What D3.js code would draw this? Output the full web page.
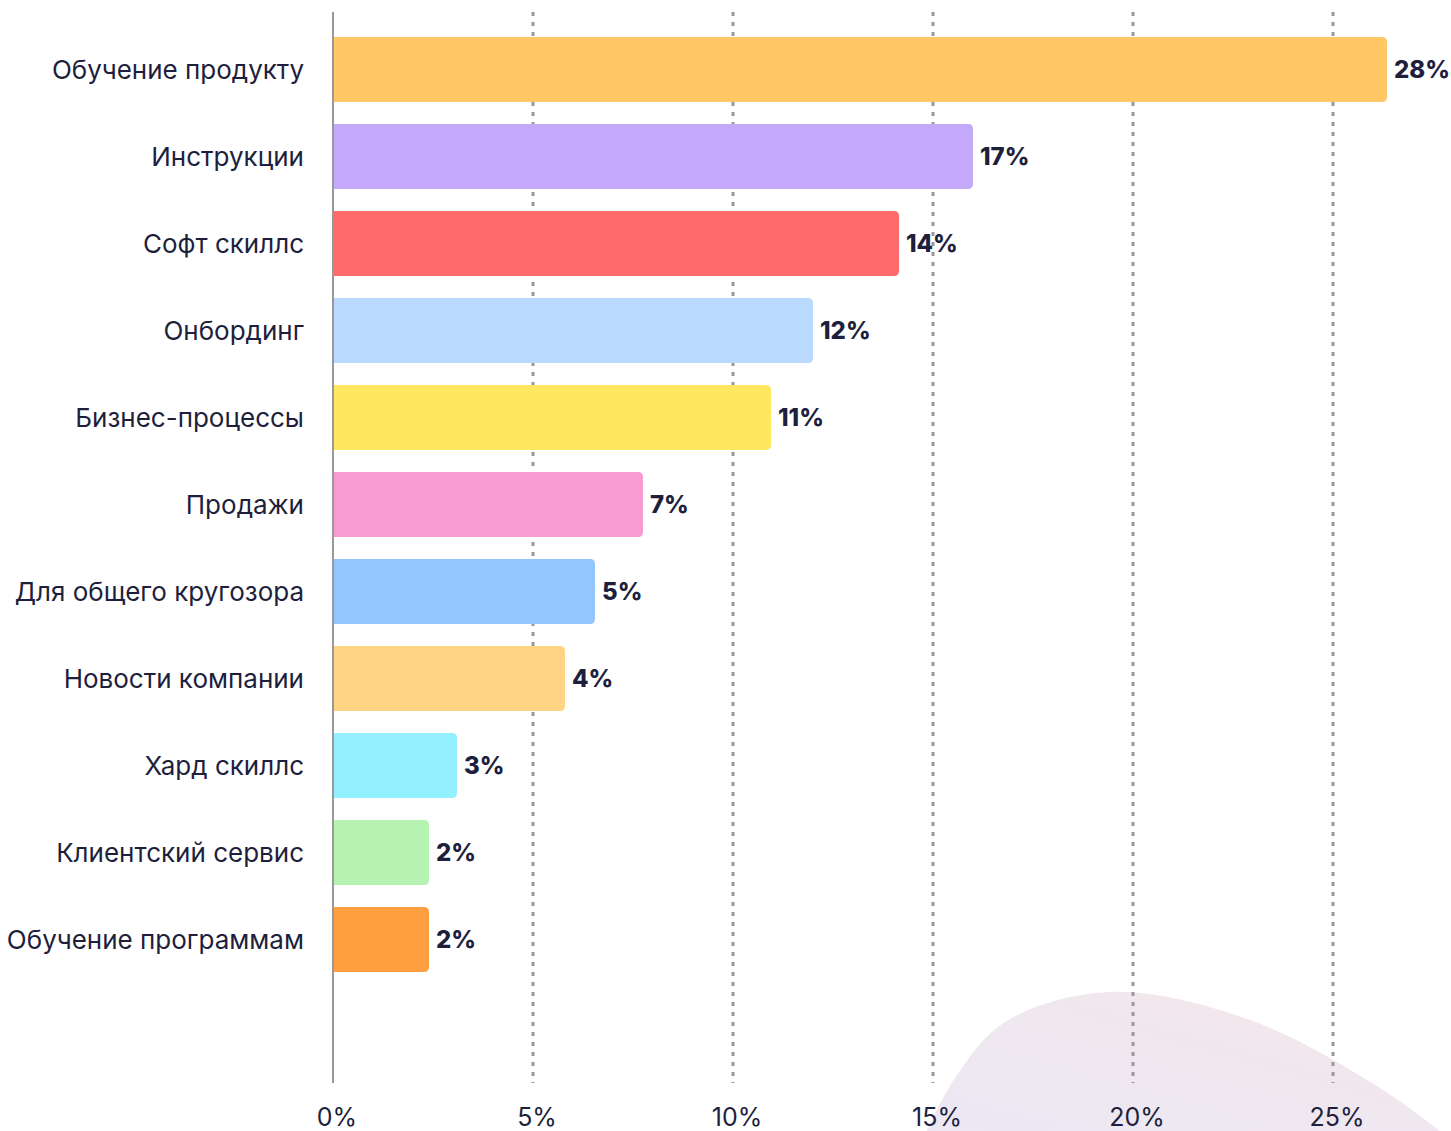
<!DOCTYPE html>
<html>
<head>
<meta charset="utf-8">
<script src="https://cdn.jsdelivr.net/npm/d3@7"></script>
<style>
  body { margin: 0; background: #fff; }
  text { font-family: Inter, "Noto Sans", sans-serif; fill: #1e1f3d; }
</style>
</head>
<body>
<svg width="1451" height="1131"></svg>
<script>
var categories = ['Обучение продукту', 'Инструкции', 'Софт скиллс', 'Онбординг', 'Бизнес-процессы',
  'Продажи', 'Для общего кругозора', 'Новости компании', 'Хард скиллс', 'Клиентский сервис', 'Обучение программам'];
// bar lengths as drawn (in %)
var barValues = [26.35, 16.0, 14.15, 12.0, 10.95, 7.75, 6.55, 5.8, 3.1, 2.4, 2.4];
// printed labels
var valueLabels = ['28%', '17%', '14%', '12%', '11%', '7%', '5%', '4%', '3%', '2%', '2%'];
var colors = ['#ffc766', '#c4a9fb', '#ff6b6b', '#bad9fe', '#ffe760', '#f99bd3', '#94c6fe', '#ffd483', '#93f1ff', '#b6f2b1', '#ff9f40'];
var tickValues = [0, 5, 10, 15, 20, 25];

var svg = d3.select('svg');

var x = d3.scaleLinear().domain([0, 25]).range([333, 1333]);
var y = d3.scaleBand().domain(categories).range([37, 972]).paddingInner(0.253).paddingOuter(0);

// decorative blob at bottom right
var defs = svg.append('defs');
var grad = defs.append('linearGradient').attr('id', 'blob').attr('x1', '0').attr('y1', '1').attr('x2', '1').attr('y2', '0');
grad.append('stop').attr('offset', '0%').attr('stop-color', '#ebe8f4');
grad.append('stop').attr('offset', '100%').attr('stop-color', '#f4e7ea');
var blobPts = [[925, 1135], [955, 1078], [1005, 1022], [1110, 992], [1250, 1020], [1380, 1088], [1445, 1135]];
svg.append('path')
  .attr('d', d3.line().curve(d3.curveCatmullRom)(blobPts) + 'Z')
  .attr('fill', 'url(#blob)');

// dotted grid
svg.append('g')
  .selectAll('line')
  .data(tickValues.slice(1))
  .enter()
  .append('line')
  .attr('x1', function (d) { return x(d); })
  .attr('x2', function (d) { return x(d); })
  .attr('y1', 12)
  .attr('y2', 1083)
  .style('stroke', '#999')
  .style('stroke-width', 3)
  .style('stroke-dasharray', '4,6');

// tick labels
svg.append('g')
  .selectAll('text')
  .data(tickValues)
  .enter()
  .append('text')
  .attr('x', function (d) { return x(d) + 4; })
  .attr('y', 1126)
  .attr('text-anchor', 'middle')
  .style('font-size', '25px')
  .text(function (d) { return d + '%'; });

// bars: square left, rounded right
var r = 5;
svg.append('g')
  .selectAll('path')
  .data(barValues)
  .enter()
  .append('path')
  .attr('d', function (d, i) {
    var x0 = x(0), x1 = x(d), y0 = y(categories[i]), h = y.bandwidth();
    return 'M' + x0 + ',' + y0 + 'H' + (x1 - r) + 'Q' + x1 + ',' + y0 + ' ' + x1 + ',' + (y0 + r) +
      'V' + (y0 + h - r) + 'Q' + x1 + ',' + (y0 + h) + ' ' + (x1 - r) + ',' + (y0 + h) + 'H' + x0 + 'Z';
  })
  .style('fill', function (d, i) { return colors[i]; });

// axis line
svg.append('line')
  .attr('x1', x(0)).attr('x2', x(0))
  .attr('y1', 12).attr('y2', 1083)
  .style('stroke', '#999')
  .style('stroke-width', 2);

// category labels
svg.append('g')
  .selectAll('text')
  .data(categories)
  .enter()
  .append('text')
  .attr('x', 304)
  .attr('y', function (d) { return y(d) + y.bandwidth() / 2; })
  .attr('dy', '0.35em')
  .attr('text-anchor', 'end')
  .style('font-size', '26px')
  .text(function (d) { return d; });

// value labels
svg.append('g')
  .selectAll('text')
  .data(barValues)
  .enter()
  .append('text')
  .attr('x', function (d) { return x(d) + 7; })
  .attr('y', function (d, i) { return y(categories[i]) + y.bandwidth() / 2; })
  .attr('dy', '0.35em')
  .style('font-size', '24px')
  .style('font-weight', 800)
  .text(function (d, i) { return valueLabels[i]; });
</script>
</body>
</html>
